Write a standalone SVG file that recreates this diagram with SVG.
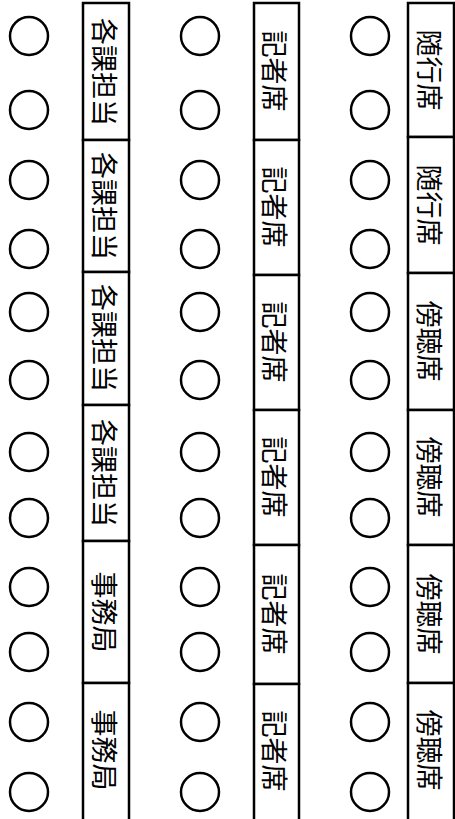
<svg xmlns="http://www.w3.org/2000/svg" width="455" height="819" viewBox="0 0 455 819">
<style>
.seat{fill:#fff;stroke:#000;stroke-width:2.5}
.box{fill:#fff;stroke:#000;stroke-width:2.5}
.lbl{font-family:"Noto Sans CJK JP","Noto Sans CJK SC",sans-serif;font-size:27px;fill:#000;text-anchor:middle;dominant-baseline:central}
</style>
<rect width="455" height="819" fill="#fff"/>
<g id="seats-left">
<circle class="seat" cx="29" cy="36" r="19"/>
<circle class="seat" cx="29" cy="110" r="19"/>
<circle class="seat" cx="29" cy="180" r="19"/>
<circle class="seat" cx="29" cy="249" r="19"/>
<circle class="seat" cx="29" cy="312" r="19"/>
<circle class="seat" cx="29" cy="380" r="19"/>
<circle class="seat" cx="29" cy="452" r="19"/>
<circle class="seat" cx="29" cy="518" r="19"/>
<circle class="seat" cx="29" cy="587" r="19"/>
<circle class="seat" cx="29" cy="652" r="19"/>
<circle class="seat" cx="29" cy="722" r="19"/>
<circle class="seat" cx="29" cy="792" r="19"/>
</g>
<g id="seats-middle">
<circle class="seat" cx="200" cy="36" r="19"/>
<circle class="seat" cx="200" cy="110" r="19"/>
<circle class="seat" cx="200" cy="180" r="19"/>
<circle class="seat" cx="200" cy="249" r="19"/>
<circle class="seat" cx="200" cy="312" r="19"/>
<circle class="seat" cx="200" cy="380" r="19"/>
<circle class="seat" cx="200" cy="452" r="19"/>
<circle class="seat" cx="200" cy="518" r="19"/>
<circle class="seat" cx="200" cy="587" r="19"/>
<circle class="seat" cx="200" cy="652" r="19"/>
<circle class="seat" cx="200" cy="722" r="19"/>
<circle class="seat" cx="200" cy="792" r="19"/>
</g>
<g id="seats-right">
<circle class="seat" cx="370" cy="36" r="19"/>
<circle class="seat" cx="370" cy="110" r="19"/>
<circle class="seat" cx="370" cy="180" r="19"/>
<circle class="seat" cx="370" cy="249" r="19"/>
<circle class="seat" cx="370" cy="312" r="19"/>
<circle class="seat" cx="370" cy="380" r="19"/>
<circle class="seat" cx="370" cy="452" r="19"/>
<circle class="seat" cx="370" cy="518" r="19"/>
<circle class="seat" cx="370" cy="587" r="19"/>
<circle class="seat" cx="370" cy="652" r="19"/>
<circle class="seat" cx="370" cy="722" r="19"/>
<circle class="seat" cx="370" cy="792" r="19"/>
</g>
<g id="col-left">
<g id="L1"><rect class="box" x="83" y="3" width="46" height="137"/><text class="lbl" transform="translate(105,72) rotate(90)">各課担当</text></g>
<g id="L2"><rect class="box" x="83" y="140" width="46" height="132"/><text class="lbl" transform="translate(105,206) rotate(90)">各課担当</text></g>
<g id="L3"><rect class="box" x="83" y="272" width="46" height="133"/><text class="lbl" transform="translate(105,338) rotate(90)">各課担当</text></g>
<g id="L4"><rect class="box" x="83" y="405" width="46" height="136"/><text class="lbl" transform="translate(105,473) rotate(90)">各課担当</text></g>
<g id="L5"><rect class="box" x="83" y="541" width="46" height="142"/><text class="lbl" transform="translate(105,612) rotate(90)">事務局</text></g>
<g id="L6"><rect class="box" x="83" y="683" width="46" height="140"/><text class="lbl" transform="translate(105,750) rotate(90)">事務局</text></g>
</g>
<g id="col-middle">
<g id="M1"><rect class="box" x="254" y="3" width="45" height="137"/><text class="lbl" transform="translate(275,71) rotate(90)">記者席</text></g>
<g id="M2"><rect class="box" x="254" y="140" width="45" height="135"/><text class="lbl" transform="translate(275,207) rotate(90)">記者席</text></g>
<g id="M3"><rect class="box" x="254" y="275" width="45" height="135"/><text class="lbl" transform="translate(275,342) rotate(90)">記者席</text></g>
<g id="M4"><rect class="box" x="254" y="410" width="45" height="135"/><text class="lbl" transform="translate(275,477) rotate(90)">記者席</text></g>
<g id="M5"><rect class="box" x="254" y="545" width="45" height="139"/><text class="lbl" transform="translate(275,614) rotate(90)">記者席</text></g>
<g id="M6"><rect class="box" x="254" y="684" width="45" height="140"/><text class="lbl" transform="translate(275,751) rotate(90)">記者席</text></g>
</g>
<g id="col-right">
<g id="R1"><rect class="box" x="408" y="3" width="46" height="134"/><text class="lbl" transform="translate(430,70) rotate(90)">随行席</text></g>
<g id="R2"><rect class="box" x="408" y="137" width="46" height="136"/><text class="lbl" transform="translate(430,205) rotate(90)">随行席</text></g>
<g id="R3"><rect class="box" x="408" y="273" width="46" height="137"/><text class="lbl" transform="translate(430,341) rotate(90)">傍聴席</text></g>
<g id="R4"><rect class="box" x="408" y="410" width="46" height="135"/><text class="lbl" transform="translate(430,477) rotate(90)">傍聴席</text></g>
<g id="R5"><rect class="box" x="408" y="545" width="46" height="138"/><text class="lbl" transform="translate(430,614) rotate(90)">傍聴席</text></g>
<g id="R6"><rect class="box" x="408" y="683" width="46" height="140"/><text class="lbl" transform="translate(430,750) rotate(90)">傍聴席</text></g>
</g>
<g id="connectors"/>
</svg>
